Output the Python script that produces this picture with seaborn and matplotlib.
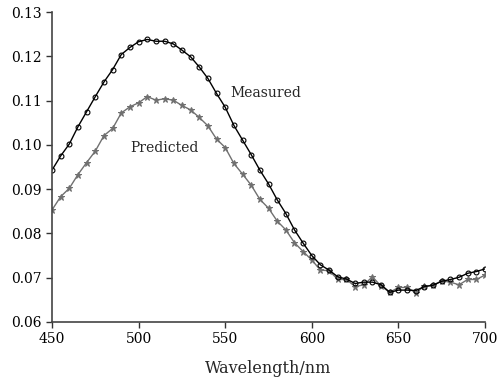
import numpy as np
import pandas as pd
import matplotlib
matplotlib.use("Agg")
import matplotlib.pyplot as plt
import seaborn as sns

# wavelength grid, 5 nm steps
wavelength = list(range(450, 705, 5))

measured = [
    0.0943, 0.0975, 0.1002, 0.1041, 0.1075, 0.1109, 0.1142, 0.1170, 0.1204, 0.1220,
    0.1233, 0.1238, 0.1234, 0.1234, 0.1228, 0.1214, 0.1199, 0.1176, 0.1150, 0.1116,
    0.1085, 0.1044, 0.1011, 0.0978, 0.0943, 0.0912, 0.0876, 0.0845, 0.0808, 0.0778,
    0.0750, 0.0729, 0.0717, 0.0702, 0.0697, 0.0687, 0.0690, 0.0690, 0.0684, 0.0667,
    0.0672, 0.0672, 0.0671, 0.0680, 0.0683, 0.0692, 0.0696, 0.0701, 0.0710, 0.0714,
    0.0720,
]

predicted = [
    0.0853, 0.0883, 0.0902, 0.0933, 0.0960, 0.0986, 0.1021, 0.1037, 0.1072, 0.1086,
    0.1095, 0.1109, 0.1101, 0.1104, 0.1101, 0.1089, 0.1079, 0.1062, 0.1043, 0.1013,
    0.0994, 0.0958, 0.0934, 0.0909, 0.0877, 0.0857, 0.0828, 0.0808, 0.0779, 0.0759,
    0.0740, 0.0717, 0.0716, 0.0696, 0.0696, 0.0680, 0.0684, 0.0702, 0.0681, 0.0667,
    0.0678, 0.0678, 0.0666, 0.0681, 0.0683, 0.0693, 0.0690, 0.0684, 0.0696, 0.0696,
    0.0706,
]

x_ticks = [450, 500, 550, 600, 650, 700]
y_ticks = [0.06, 0.07, 0.08, 0.09, 0.10, 0.11, 0.12, 0.13]

df = pd.DataFrame({"wavelength": wavelength, "measured": measured, "predicted": predicted})

sns.set_style("ticks")
plt.rcParams["font.family"] = ["DejaVu Serif"]

fig = plt.figure(figsize=(4.99, 3.79), dpi=100)
ax = fig.add_axes([0.1042, 0.1504, 0.8678, 0.8179])

sns.lineplot(data=df, x="wavelength", y="predicted", ax=ax, color="#707070",
             marker="*", markersize=4.5, markeredgecolor="#707070", linewidth=1.0)
sns.lineplot(data=df, x="wavelength", y="measured", ax=ax, color="black",
             marker="o", markersize=3.5, markerfacecolor="none",
             markeredgecolor="black", markeredgewidth=0.8, linewidth=1.0)

ax.text(553, 0.1117, "Measured", fontsize=10, va="center", ha="left")
ax.text(495, 0.0993, "Predicted", fontsize=10, va="center", ha="left")

ax.set_xlim(450, 700)
ax.set_ylim(0.06, 0.13)
ax.set_xticks(x_ticks)
ax.set_yticks(y_ticks)
ax.set_yticklabels([f"{v:.2f}" for v in y_ticks])
ax.tick_params(labelsize=10, length=4, width=1, colors="#333333", labelcolor="black")
ax.set_xlabel("Wavelength/nm", fontsize=11.5, labelpad=10)
ax.set_ylabel("")
sns.despine(ax=ax)
for s in ["left", "bottom"]:
    ax.spines[s].set_color("#444444")
    ax.spines[s].set_linewidth(1.2)

fig.savefig("out.png", dpi=100)
